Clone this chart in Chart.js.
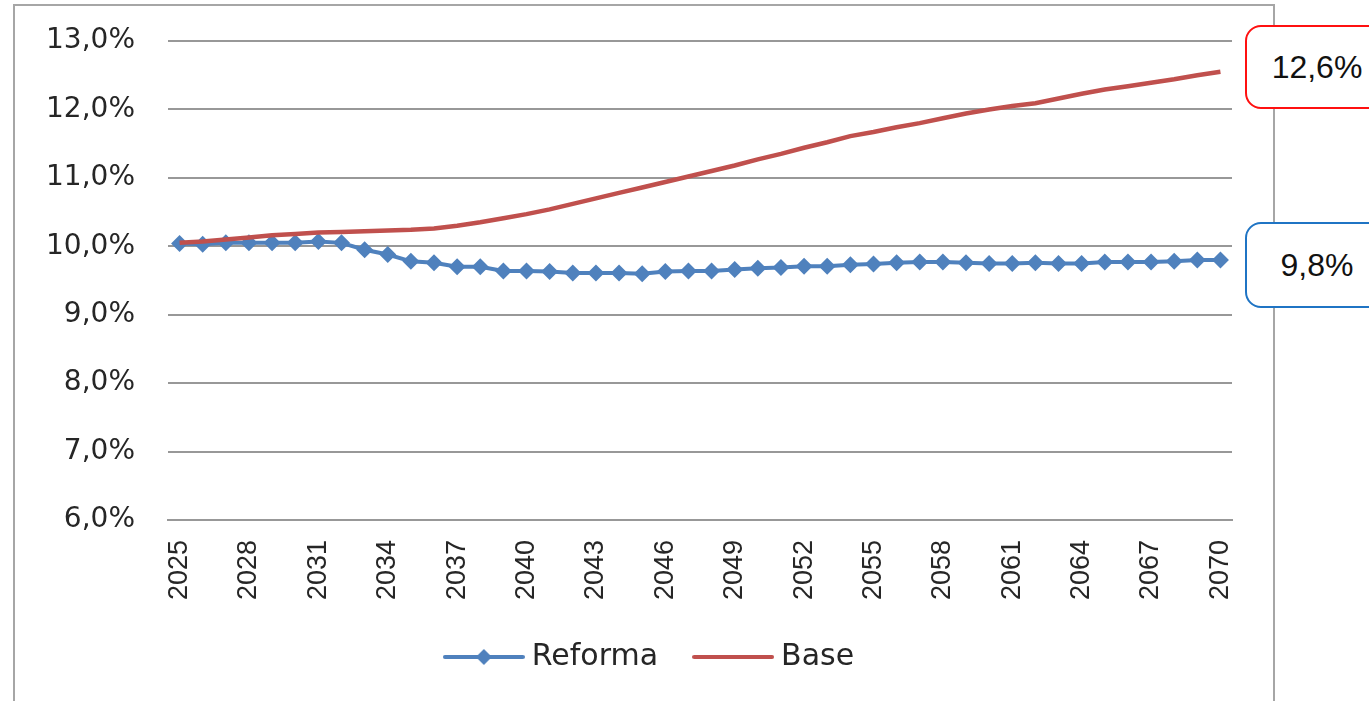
<!DOCTYPE html>
<html>
<head>
<meta charset="utf-8">
<script src="https://cdn.jsdelivr.net/npm/chart.js@4/dist/chart.umd.min.js"></script>
<style>
  html, body { margin: 0; padding: 0; background: #fff; overflow: hidden; }
  .wrap { position: relative; width: 1369px; height: 701px; }
  .frame { position: absolute; left: 13px; top: 4px; width: 1258px; height: 760px; border: 2px solid #a6a6a6; }
  canvas { position: absolute; left: 0; top: 0; }
  .callout { position: absolute; left: 1245px; width: 140px; background: #fff; border: 2px solid; border-radius: 16px;
             font-family: "Liberation Sans", Arial, sans-serif; font-size: 32px; color: #111;
             display: flex; align-items: center; justify-content: center; }
  .callout.base { top: 25px; height: 80px; border-color: #ff1010; }
  .callout.reforma { top: 222px; height: 82px; border-color: #1f74c4; }
</style>
</head>
<body>
<div class="wrap">
  <div class="frame"></div>
  <canvas id="chart" width="1369" height="701"></canvas>
  <div class="callout base">12,6%</div>
  <div class="callout reforma">9,8%</div>
</div>
<script>
'use strict';

const years = [2025, 2026, 2027, 2028, 2029, 2030, 2031, 2032, 2033, 2034,
  2035, 2036, 2037, 2038, 2039, 2040, 2041, 2042, 2043, 2044,
  2045, 2046, 2047, 2048, 2049, 2050, 2051, 2052, 2053, 2054,
  2055, 2056, 2057, 2058, 2059, 2060, 2061, 2062, 2063, 2064,
  2065, 2066, 2067, 2068, 2069, 2070];

// % values
const reforma = [10.04, 10.03, 10.05, 10.05, 10.05, 10.05, 10.07, 10.05, 9.95, 9.88,
  9.78, 9.76, 9.70, 9.70, 9.64, 9.64, 9.63, 9.61, 9.61, 9.61,
  9.60, 9.63, 9.64, 9.64, 9.66, 9.68, 9.69, 9.71, 9.71, 9.73,
  9.74, 9.76, 9.77, 9.77, 9.76, 9.75, 9.75, 9.76, 9.75, 9.75,
  9.77, 9.77, 9.77, 9.78, 9.80, 9.80];

const base = [10.05, 10.07, 10.10, 10.13, 10.16, 10.18, 10.20, 10.21, 10.22, 10.23,
  10.24, 10.26, 10.30, 10.35, 10.41, 10.47, 10.54, 10.62, 10.70, 10.78,
  10.86, 10.94, 11.02, 11.10, 11.18, 11.27, 11.35, 11.44, 11.52, 11.61,
  11.67, 11.74, 11.80, 11.87, 11.94, 12.00, 12.05, 12.09, 12.16, 12.23,
  12.29, 12.34, 12.39, 12.44, 12.50, 12.55];

const shownYears = [2025, 2028, 2031, 2034, 2037, 2040, 2043, 2046, 2049, 2052, 2055, 2058, 2061, 2064, 2067, 2070];

const BLUE = '#4f81bd';
const RED = '#c0504d';
const GRID = '#989898';
const TEXT = '#262626';

// legend swatch: line with optional diamond
const makeSwatch = function(color, diamond){
  const c = document.createElement('canvas');
  c.width = 82; c.height = 20;
  const g = c.getContext('2d');
  g.strokeStyle = color;
  g.lineWidth = 4;
  g.lineCap = 'round';
  g.beginPath();
  g.moveTo(2, 10); g.lineTo(80, 10);
  g.stroke();
  if(diamond){
    g.fillStyle = color;
    g.beginPath();
    g.moveTo(41, 2); g.lineTo(49, 10); g.lineTo(41, 18); g.lineTo(33, 10);
    g.closePath();
    g.fill();
  }
  return c;
};

const swatches = [makeSwatch(BLUE, true), makeSwatch(RED, false)];

// nudge the legend so it sits centred under the plot like the original
const legendShift = {
  id: 'legendShift',
  beforeDraw(chart){
    const lg = chart.legend;
    if(lg){ lg.left = 73; lg.right = 1232; }
  }
};

const ctx = document.getElementById('chart').getContext('2d');

new Chart(ctx, {
  type: 'line',
  data: {
    labels: years,
    datasets: [{
      label: 'Reforma',
      data: reforma,
      borderColor: BLUE,
      backgroundColor: BLUE,
      borderWidth: 4,
      pointStyle: 'rectRot',
      pointRadius: 8.5,
      pointBorderWidth: 0,
      order: 2
    }, {
      label: 'Base',
      data: base,
      borderColor: RED,
      backgroundColor: RED,
      borderWidth: 4.5,
      pointRadius: 0,
      order: 1
    }]
  },
  options: {
    responsive: false,
    animation: false,
    layout: { padding: { left: 0, right: 137, top: 41, bottom: 19 } },
    plugins: {
      tooltip: { enabled: false },
      legend: {
        position: 'bottom',
        labels: {
          usePointStyle: true,
          pointStyleWidth: 66,
          padding: 42,
          color: TEXT,
          font: { family: 'DejaVu Sans', size: 30 },
          generateLabels: function(chart){
            return chart.data.datasets.map((ds, i) => ({
              text: ds.label,
              pointStyle: swatches[i],
              fillStyle: ds.borderColor,
              strokeStyle: ds.borderColor,
              lineWidth: 0,
              fontColor: TEXT,
              hidden: false,
              datasetIndex: i
            }));
          }
        }
      }
    },
    scales: {
      x: {
        offset: true,
        afterFit: function(scale){ scale.height = 80; scale.paddingLeft = 0; scale.paddingRight = 0; },
        grid: { display: false, drawTicks: false },
        border: { display: true, color: GRID, width: 2 },
        ticks: {
          autoSkip: false,
          minRotation: 90,
          maxRotation: 90,
          padding: 20,
          color: TEXT,
          font: { family: '"Liberation Sans", Arial, sans-serif', size: 27 },
          callback: function(value){
            const y = years[value];
            return shownYears.includes(y) ? String(y) : '';
          }
        }
      },
      y: {
        min: 6,
        max: 13,
        afterFit: function(scale){ scale.width = 168; scale.paddingTop = 0; scale.paddingBottom = 0; },
        grid: { color: GRID, lineWidth: 2, drawTicks: false },
        border: { display: false },
        ticks: {
          stepSize: 1,
          padding: 33,
          color: TEXT,
          font: { family: 'DejaVu Sans', size: 28 },
          callback: function(v){ return v.toFixed(1).replace('.', ',') + '%'; }
        }
      }
    }
  },
  plugins: [legendShift]
});
</script>
</body>
</html>
